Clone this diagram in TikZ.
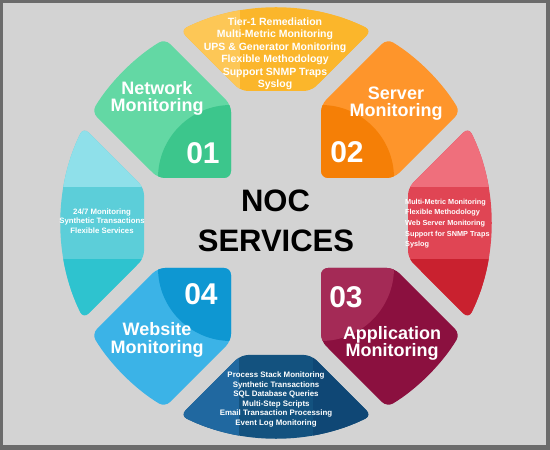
\documentclass[tikz,border=0pt]{standalone}
\usepackage{fontspec}
\setmainfont{Liberation Sans}
\definecolor{bordergray}{HTML}{6B6B6B}
\definecolor{bggray}{HTML}{D3D3D3}
\definecolor{yelL}{HTML}{FDC756}
\definecolor{yelM}{HTML}{FBB62B}
\definecolor{yelR}{HTML}{FBB62B}
\definecolor{grnL}{HTML}{63D8A4}
\definecolor{grnD}{HTML}{3CC68C}
\definecolor{orgL}{HTML}{FE952B}
\definecolor{orgD}{HTML}{F57F06}
\definecolor{redT}{HTML}{EF6F7C}
\definecolor{redM}{HTML}{E04554}
\definecolor{redB}{HTML}{C9212F}
\definecolor{marL}{HTML}{A42A56}
\definecolor{marD}{HTML}{8B103F}
\definecolor{navL}{HTML}{2068A0}
\definecolor{navM}{HTML}{13527F}
\definecolor{navR}{HTML}{0F4775}
\definecolor{bluL}{HTML}{3BB3E7}
\definecolor{bluD}{HTML}{0E97D2}
\definecolor{cyaT}{HTML}{8FE0EA}
\definecolor{cyaM}{HTML}{5CCED9}
\definecolor{cyaB}{HTML}{2EC3CF}
\tikzset{
  segshape/.style={rounded corners=7pt},
  title/.style={text=white, align=center, inner sep=0pt, font=\fontsize{18}{17.2}\selectfont\bfseries},
  num/.style={text=white, inner sep=0pt, font=\fontsize{30}{30}\selectfont\bfseries},
  center text/.style={text=black, inner sep=0pt, font=\fontsize{31}{31}\selectfont\bfseries},
  small/.style={text=white, inner sep=0pt, font=\bfseries}
}
\begin{document}
\begin{tikzpicture}[x=1pt,y=1pt]
\useasboundingbox (0,0) rectangle (550,450);
\fill[bordergray] (0,0) rectangle (550,450);
\fill[bggray] (3,5) rectangle (546,447);
\begin{scope}[shift={(276,227)}]
  % North petal
  \begin{scope}
    \clip[segshape] (-35,132) -- (35,132) -- (63.6:215) arc[start angle=63.6,end angle=116.4,radius=215] -- cycle;
    \fill[yelM] (-250,100) rectangle (250,250);
    \fill[yelL] (-250,100) rectangle (-36,250);
    \fill[yelR] (36,100) rectangle (250,250);
  \end{scope}
  % East petal
  \begin{scope}
    \clip[segshape] (132,35) -- (132,-35) -- (-26.4:215) arc[start angle=-26.4,end angle=26.4,radius=215] -- cycle;
    \fill[redM] (100,-250) rectangle (250,250);
    \fill[redT] (100,36) rectangle (250,250);
    \fill[redB] (100,-36) rectangle (250,-250);
  \end{scope}
  % South petal
  \begin{scope}
    \clip[segshape] (35,-132) -- (-35,-132) -- (243.6:215) arc[start angle=243.6,end angle=296.4,radius=215] -- cycle;
    \fill[navM] (-250,-100) rectangle (250,-250);
    \fill[navL] (-250,-100) rectangle (-37,-250);
    \fill[navR] (37,-100) rectangle (250,-250);
  \end{scope}
  % West petal
  \begin{scope}
    \clip[segshape] (-132,-35) -- (-132,35) -- (153.6:215) arc[start angle=153.6,end angle=206.4,radius=215] -- cycle;
    \fill[cyaM] (-100,-250) rectangle (-250,250);
    \fill[cyaT] (-100,36) rectangle (-250,250);
    \fill[cyaB] (-100,-36) rectangle (-250,-250);
  \end{scope}
  % North-west (01)
  \begin{scope}
    \clip[segshape] (-45,45) -- (-45,118) -- (121.1:215) arc[start angle=121.1,end angle=148.9,radius=215] -- (-118,45) -- cycle;
    \fill[grnL] (-250,0) rectangle (0,250);
    \fill[grnD] (-45,45) circle[radius=73];
  \end{scope}
  % North-east (02)
  \begin{scope}
    \clip[segshape] (45,45) -- (118,45) -- (31.1:215) arc[start angle=31.1,end angle=58.9,radius=215] -- (45,118) -- cycle;
    \fill[orgL] (0,0) rectangle (250,250);
    \fill[orgD] (45,45) circle[radius=73];
  \end{scope}
  % South-east (03)
  \begin{scope}
    \clip[segshape] (45,-45) -- (45,-118) -- (-58.9:215) arc[start angle=-58.9,end angle=-31.1,radius=215] -- (118,-45) -- cycle;
    \fill[marD] (0,0) rectangle (250,-250);
    \fill[marL] (45,-45) circle[radius=73];
  \end{scope}
  % South-west (04)
  \begin{scope}
    \clip[segshape] (-45,-45) -- (-118,-45) -- (211.1:215) arc[start angle=211.1,end angle=238.9,radius=215] -- (-45,-118) -- cycle;
    \fill[bluL] (0,0) rectangle (-250,-250);
    \fill[bluD] (-45,-45) circle[radius=73];
  \end{scope}
\end{scope}
% titles
\node[title] (t1) at (157,351.6) {Network\\Monitoring};
\node[title] (t2) at (396,346.6) {Server\\Monitoring};
\node[title] (t3) at (392,106.6) {Application\\Monitoring};
\node[title] (t4) at (157,110.1) {Website\\Monitoring};
% numbers
\node[num] (n1) at (203,297) {01};
\node[num] (n2) at (347,298) {02};
\node[num] (n3) at (346,153) {03};
\node[num] (n4) at (201,156) {04};
% center
\node[center text] (noc) at (275.5,249.5) {NOC};
\node[center text] (svc) at (276,208.7) {SERVICES};
% small texts
\node[small, align=center, font=\fontsize{10.5}{12.52}\selectfont\bfseries] (ytext) at (275,396) {Tier-1 Remediation\\Multi-Metric Monitoring\\UPS \& Generator Monitoring\\Flexible Methodology\\Support SNMP Traps\\Syslog};
\node[small, align=left, anchor=west, font=\fontsize{7.3}{10.65}\selectfont\bfseries] (rtext) at (405,226.3) {Multi-Metric Monitoring\\Flexible Methodology\\Web Server Monitoring\\Support for SNMP Traps\\Syslog};
\node[small, align=center, font=\fontsize{7.8}{9.5}\selectfont\bfseries] (ctext) at (102,228.8) {24/7 Monitoring\\Synthetic Transactions\\Flexible Services};
\node[small, align=center, font=\fontsize{7.9}{9.54}\selectfont\bfseries] (ntext) at (276,50.4) {Process Stack Monitoring\\Synthetic Transactions\\SQL Database Queries\\Multi-Step Scripts\\Email Transaction Processing\\Event Log Monitoring};
\end{tikzpicture}
\end{document}
